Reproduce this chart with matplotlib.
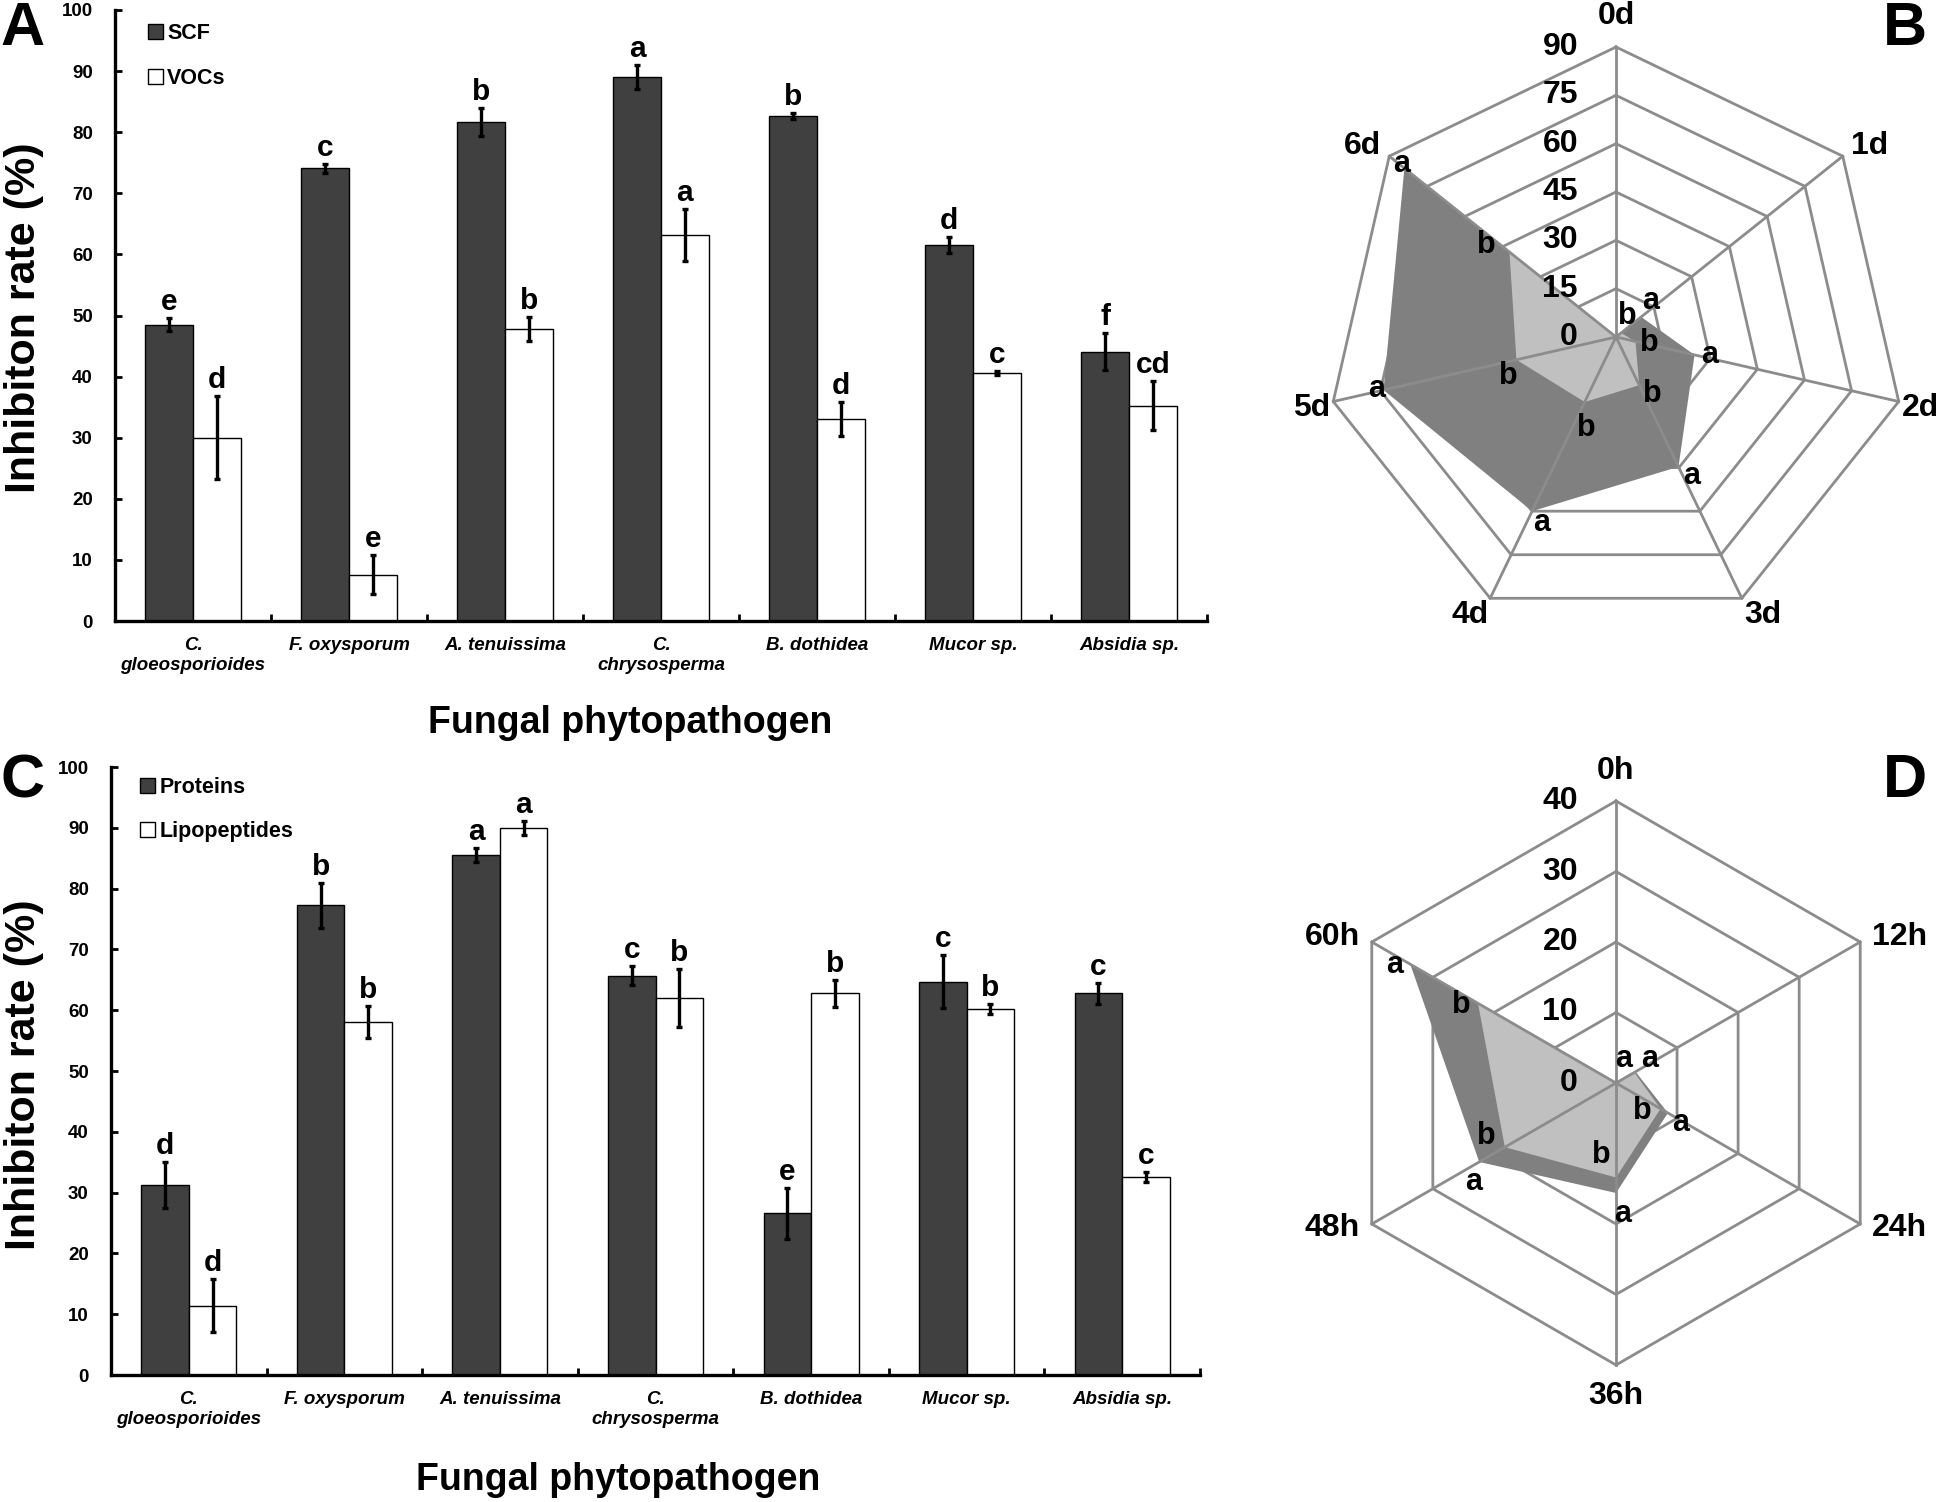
import numpy as np
import matplotlib.pyplot as plt

plt.rcParams['font.family'] = ['Liberation Sans', 'DejaVu Sans']
plt.rcParams['font.weight'] = 'bold'

# ---- data -------------------------------------------------------------
fungi = ['C.\ngloeosporioides', 'F. oxysporum', 'A. tenuissima',
         'C.\nchrysosperma', 'B. dothidea', 'Mucor sp.', 'Absidia sp.']

# panel A
scf = [48.5, 74.1, 81.6, 89.0, 82.7, 61.6, 44.1]
scf_err = [1.1, 0.7, 2.3, 2.0, 0.5, 1.3, 3.0]
scf_sig = ['e', 'c', 'b', 'a', 'b', 'd', 'f']
vocs = [30.0, 7.6, 47.8, 63.2, 33.1, 40.6, 35.2]
vocs_err = [6.8, 3.2, 2.0, 4.2, 2.8, 0.3, 4.0]
vocs_sig = ['d', 'e', 'b', 'a', 'd', 'c', 'cd']

# panel C
proteins = [31.3, 77.3, 85.5, 65.7, 26.6, 64.7, 62.8]
proteins_err = [3.8, 3.7, 1.2, 1.6, 4.2, 4.4, 1.7]
proteins_sig = ['d', 'b', 'a', 'c', 'e', 'c', 'c']
lipo = [11.4, 58.1, 90.0, 62.0, 62.8, 60.2, 32.6]
lipo_err = [4.4, 2.6, 1.2, 4.8, 2.2, 0.8, 0.8]
lipo_sig = ['d', 'b', 'a', 'b', 'b', 'b', 'c']

# panel B
days = ['0d', '1d', '2d', '3d', '4d', '5d', '6d']
b_high = [0, 10, 25, 44.7, 60, 74, 84]
b_low = [0, 2, 6.2, 16.6, 22.4, 31.7, 42.3]
b_high_sig = ['', 'a', 'a', 'a', 'a', 'a', 'a']
b_low_sig = ['', 'b', 'b', 'b', 'b', 'b', 'b']
b_rings = [0, 15, 30, 45, 60, 75, 90]

# panel D
hours = ['0h', '12h', '24h', '36h', '48h', '60h']
d_high = [0, 3.2, 8.5, 15.6, 22.4, 33.7]
d_low = [0, 3.0, 7.3, 13.4, 18.2, 22.6]
d_high_sig = ['a', 'a', 'a', 'a', 'a', 'a']
d_low_sig = ['', '', 'b', 'b', 'b', 'b']
d_rings = [0, 10, 20, 30, 40]

W, H = 1946, 1502
fig = plt.figure(figsize=(W / 100, H / 100), dpi=100, facecolor='white')

DARK = '#404040'
GRID = '#8c8c8c'


def px_rect(left, top, right, bottom):
    return [left / W, 1 - bottom / H, (right - left) / W, (bottom - top) / H]


def bar_panel(rect, s1, e1, g1, n1, s2, e2, g2, n2, leg_anchor, labelsp):
    ax = fig.add_axes(rect)
    x = np.arange(len(fungi))
    w = 0.305
    b1 = ax.bar(x - w / 2, s1, w, color=DARK, edgecolor='black', linewidth=1, label=n1)
    b2 = ax.bar(x + w / 2, s2, w, color='white', edgecolor='black', linewidth=1, label=n2)
    for xs, v, e, g in ((x - w / 2, s1, e1, g1), (x + w / 2, s2, e2, g2)):
        ax.errorbar(xs, v, yerr=e, fmt='none', ecolor='black',
                    elinewidth=2.4, capsize=2.5, capthick=2.4)
        for xi, vi, ei, gi in zip(xs, v, e, g):
            ax.annotate(gi, (xi, vi + ei), xytext=(0, 2), textcoords='offset pixels',
                        ha='center', va='bottom', fontsize=21.5, fontweight='bold')

    ax.set_xlim(-0.5, len(fungi) - 0.5)
    ax.set_ylim(0, 100)
    ax.set_yticks(range(0, 101, 10))
    ax.set_xticks(x)
    ax.set_xticklabels(fungi, fontstyle='italic', fontsize=13.5, fontweight='bold')
    ax.set_xticks(np.arange(-0.5, len(fungi), 1), minor=True)
    ax.tick_params(axis='x', which='major', length=0, pad=11.5)
    ax.tick_params(axis='x', which='minor', direction='in', length=5, width=2)
    ax.tick_params(axis='y', direction='in', length=5, width=2, labelsize=13.5, pad=16)
    for s in ('top', 'right'):
        ax.spines[s].set_visible(False)
    for s in ('left', 'bottom'):
        ax.spines[s].set_linewidth(2.4)

    ax.legend(handles=[b1, b2], loc='upper left', bbox_to_anchor=leg_anchor,
              frameon=False, fontsize=15.5, handlelength=0.7, handleheight=0.7,
              handletextpad=0.2, labelspacing=1.1, borderpad=0, borderaxespad=0)
    return ax


axA = bar_panel(px_rect(115, 10, 1207, 621), scf, scf_err, scf_sig, 'SCF',
                vocs, vocs_err, vocs_sig, 'VOCs', (0.030, 0.978), 1.1)
axC = bar_panel(px_rect(111, 767, 1200, 1375), proteins, proteins_err, proteins_sig, 'Proteins',
                lipo, lipo_err, lipo_sig, 'Lipopeptides', (0.027, 0.984), 1.1)

fig.text(630 / W, 1 - 723 / H, 'Fungal phytopathogen', fontsize=27, fontweight='bold',
         ha='center', va='center')
fig.text(618 / W, 1 - 1480 / H, 'Fungal phytopathogen', fontsize=27, fontweight='bold',
         ha='center', va='center')
fig.text(24 / W, 1 - 318 / H, 'Inhibiton rate (%)', fontsize=31, fontweight='bold',
         rotation=90, ha='center', va='center')
fig.text(24 / W, 1 - 1075 / H, 'Inhibiton rate (%)', fontsize=31, fontweight='bold',
         rotation=90, ha='center', va='center')


def radar(cx, cy, R, labels, high, low, hsig, lsig, rings, lab_style, hoff, loff):
    ax = fig.add_axes(px_rect(cx - R, cy - R, cx + R, cy + R), projection='polar')
    ax.set_theta_zero_location('N')
    ax.set_theta_direction(-1)
    ax.set_ylim(0, rings[-1])
    ax.axis('off')
    n = len(labels)
    ang = np.arange(n) * 2 * np.pi / n
    angc = np.append(ang, ang[0])

    for r in rings[1:]:
        ax.plot(angc, [r] * (n + 1), color=GRID, lw=2, zorder=1, clip_on=False)
    ax.fill(angc, list(high) + [high[0]], color='#808080', lw=0, zorder=2)
    ax.fill(angc, list(low) + [low[0]], color='#c0c0c0', lw=0, zorder=3)
    for a in ang:
        ax.plot([a, a], [0, rings[-1]], color=GRID, lw=2, zorder=4, clip_on=False)

    for r in rings:
        ax.annotate(f'{r:g}', xy=(0, r), xytext=(-38, 0), textcoords='offset pixels',
                    ha='right', va='center', fontsize=23, fontweight='bold', zorder=6)
    for a, lab, (dx, dy, ha) in zip(ang, labels, lab_style):
        ax.annotate(lab, xy=(a, rings[-1]), xytext=(dx, dy), textcoords='offset pixels',
                    ha=ha, va='center', fontsize=23, fontweight='bold', annotation_clip=False)
    for vals, sig, offs in ((high, hsig, hoff), (low, lsig, loff)):
        for a, v, s, (dx, dy) in zip(ang, vals, sig, offs):
            if s:
                ax.annotate(s, xy=(a, v), xytext=(dx, dy), textcoords='offset pixels',
                            ha='center', va='center', fontsize=22, fontweight='bold', zorder=7)
    return ax


b_lab = [(0, 31, 'center'), (8, 10, 'left'), (3, -6, 'left'), (2, -17, 'left'),
         (-2, -17, 'right'), (-3, -6, 'right'), (-8, 10, 'right')]
b_hoff = [(0, 0), (9, 16), (15, 0), (13, -9), (10, -12), (-7, 1), (-3, 4)]
b_loff = [(0, 0), (6, 17), (14, -2), (13, -9), (2, -26), (-8, -16), (-23, 7)]
radar(1616, 337, 290, days, b_high, b_low, b_high_sig, b_low_sig, b_rings, b_lab, b_hoff, b_loff)

d_lab = [(0, 30, 'center'), (12, 5, 'left'), (12, -4, 'left'), (0, -31, 'center'),
         (-12, -4, 'right'), (-12, 5, 'right')]
d_hoff = [(8, 24), (14, 13), (13, -10), (7, -21), (-6, -20), (-16, -1)]
d_loff = [(0, 0), (0, 0), (-18, -2), (-15, 22), (-19, 11), (-17, -2)]
radar(1616, 1083, 282, hours, d_high, d_low, d_high_sig, d_low_sig, d_rings, d_lab, d_hoff, d_loff)

for t, x, y in (('A', 23, 45), ('C', 23, 797), ('B', 1905, 45), ('D', 1905, 797)):
    fig.text(x / W, 1 - y / H, t, fontsize=44, fontweight='bold', ha='center', va='baseline')

fig.savefig('out.png', dpi=100, facecolor='white')
